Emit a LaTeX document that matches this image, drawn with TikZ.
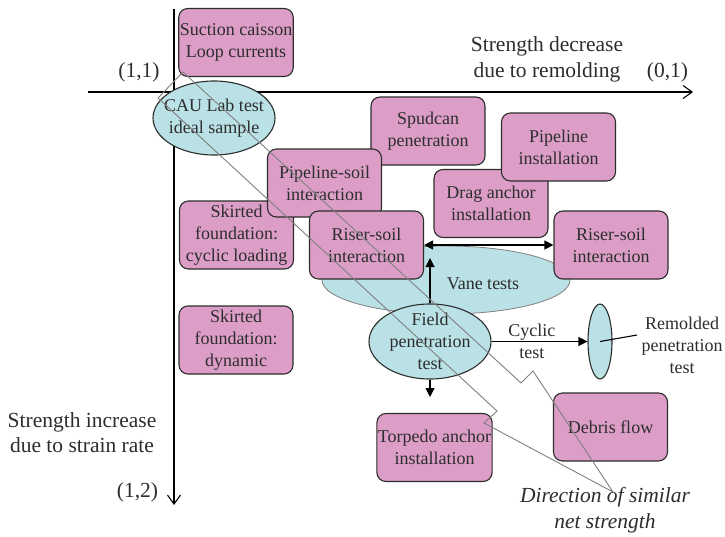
\documentclass[tikz,border=0pt]{standalone}
\usepackage{fontspec}
\setmainfont{Liberation Serif}
\usetikzlibrary{arrows.meta,shapes.geometric}
\definecolor{boxpink}{RGB}{220,158,199}
\definecolor{ovalblue}{RGB}{186,225,229}
\definecolor{inkgray}{RGB}{45,45,45}

\begin{document}
\begin{tikzpicture}[x=1pt,y=-1pt,
  font=\fontsize{18}{22}\selectfont,text=inkgray,
  box/.style={draw=inkgray,line width=1.1pt,fill=boxpink,rounded corners=9pt,
    minimum width=114pt,minimum height=68pt,inner sep=1pt,align=center},
  oval/.style={draw=inkgray,line width=1.1pt,fill=ovalblue,ellipse,inner sep=0pt},
  big/.style={font=\fontsize{21.5}{25.5}\selectfont,align=center},
  flow/.style={line width=1.1pt,draw=black,-{Triangle[length=9pt,width=9pt]}},
  twoway/.style={line width=1.1pt,draw=black,{Triangle[length=9pt,width=9pt]}-{Triangle[length=9pt,width=9pt]}},
  barb/.style={line width=1.1pt,draw=black,-{Straight Barb[length=9pt,width=13pt]}}]
\useasboundingbox[fill=white] (0,0) rectangle (725,536);

% ---------- axes ----------
\coordinate (xfrom) at (88,92);
\coordinate (xto) at (693,92);
\coordinate (yfrom) at (174,9);
\coordinate (yto) at (174,505);
\draw[barb] (xfrom) -- (xto);
\draw[barb] (yfrom) -- (yto);
\node[big] (xlbl) at (547,59.5) {Strength decrease\\due to remolding};
\node[big] (xend) at (667.5,72) {(0,1)};
\node[big] (origin) at (139,72) {(1,1)};
\node[big] (ylbl) at (82,432.5) {Strength increase\\due to strain rate};
\node[big] (yend) at (137.5,492) {(1,2)};

% ---------- vane tests sit behind everything else ----------
\node[oval,draw=gray,line width=0.8pt,minimum width=248pt,minimum height=68pt] (vane) at (446,280) {};
\node (vanetxt) at (483,284) {Vane tests};

% ---------- applications ----------
\node[box] (suction) at (236,42.5) {Suction caisson\\Loop currents};
\node[oval,minimum width=122pt,minimum height=74pt,
  label={[align=center]center:CAU Lab test\\ideal sample}] (cau) at (214,118) {};
\node[box] (spudcan) at (428,131) {Spudcan\\penetration};
\node[box] (draganchor) at (491,203.5) {Drag anchor\\installation};
\node[box] (pipeinst) at (558.5,147) {Pipeline\\installation};
\node[box] (skirtcyc) at (236.5,235) {Skirted\\foundation:\\cyclic loading};
\node[box] (pipesoil) at (324.5,183) {Pipeline-soil\\interaction};
\node[box] (riserleft) at (366.5,245) {Riser-soil\\interaction};
\node[box] (riserright) at (611,245) {Riser-soil\\interaction};
\node[box] (skirtdyn) at (236,340) {Skirted\\foundation:\\dynamic};
\node[box] (torpedo) at (434.5,447.5) {Torpedo anchor\\installation};
\node[box] (debris) at (610.5,427) {Debris flow};

% ---------- field and remolded tests ----------
\node[oval,minimum width=122pt,minimum height=75pt,
  label={[align=center]center:Field\\penetration\\test}] (field) at (430,341.5) {};
\node[oval,minimum width=24pt,minimum height=75pt] (remold) at (600,341.5) {};
\node[align=center] (remlbl) at (682,345.5) {Remolded\\penetration\\test};
\coordinate (remtag) at (637,335);
\draw[line width=1.1pt] (remold.center) -- (remtag);

\coordinate (vanetip) at (430,258);
\coordinate (fielddrop) at (430,397);
\draw[twoway] (riserleft.east) -- (riserright.west);
\draw[flow] (field.north) -- (vanetip);
\draw[flow] (field.south) -- (fielddrop);
\draw[flow] (field.east) -- node[pos=0.42,align=center] (cyclbl) {Cyclic\\test} (remold.west);

% ---------- band of similar net strength ----------
\node[big,font=\fontsize{21.5}{25.5}\selectfont\itshape] (dirlbl) at (605,510) {Direction of similar\\net strength};
\draw[gray,line width=0.9pt] (183,72) -- (521,383) -- (533,371) -- (613,492)
  -- (484,423) -- (497,411) -- (158,98) -- cycle;
\end{tikzpicture}
\end{document}
